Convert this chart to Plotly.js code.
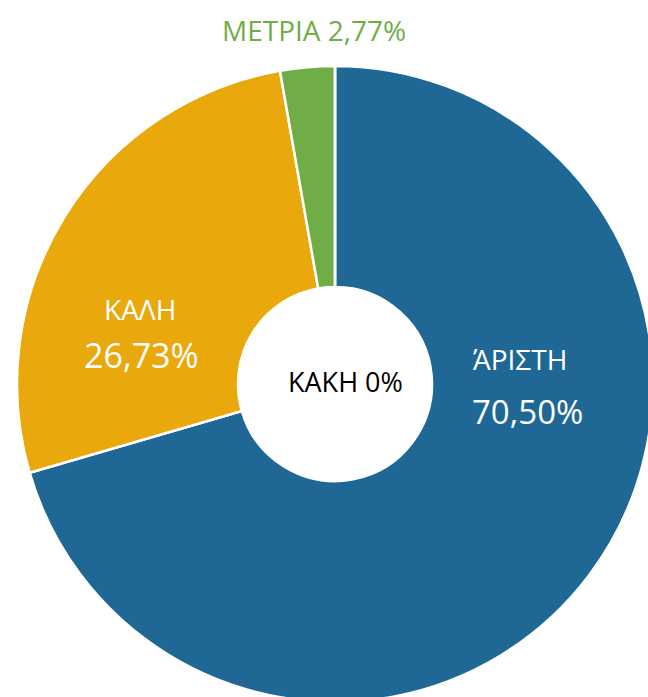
<!DOCTYPE html>
<html>
<head>
<meta charset="utf-8">
<script src="https://cdn.plot.ly/plotly-3.0.1.min.js"></script>
<style>html,body{margin:0;padding:0;background:#fff;overflow:hidden;width:648px;height:697px;}#chart{width:664px;height:712px;}</style>
</head>
<body>
<div id="chart"></div>
<script>
const labels = ["ΆΡΙΣΤΗ", "ΚΑΛΗ", "ΜΕΤΡΙΑ", "ΚΑΚΗ"];
const values = [70.50, 26.73, 2.77, 0];
const colors = ["#1f6896", "#e9a80c", "#71ad47", "#c00000"];

function pct(v) {
  if (v === 0) return "0%";
  return v.toFixed(2).replace(".", ",") + "%";
}
const W = 664, H = 712;
function px(x) { return x / W; }
function py(y) { return 1 - y / H; }
const font = "Open Sans, Noto Sans, sans-serif";

const trace = {
  type: "pie",
  labels: labels,
  values: values,
  hole: 0.305,
  sort: false,
  direction: "clockwise",
  rotation: 0,
  textinfo: "none",
  hoverinfo: "label+percent",
  marker: { colors: colors, line: { color: "#ffffff", width: 2.5 } },
  domain: { x: [17 / W, 653 / W], y: [1 - 702 / H, 1 - 66 / H] },
  showlegend: false
};

const annotations = [
  { x: px(314), y: py(30), text: labels[2] + " " + pct(values[2]), font: { size: 28, color: "#70ad47", family: font } },
  { x: px(140), y: py(309), text: labels[1], font: { size: 28, color: "#ffffff", family: font } },
  { x: px(141), y: py(355), text: pct(values[1]), font: { size: 34, color: "#ffffff", family: font } },
  { x: px(345), y: py(381), text: labels[3] + " " + pct(values[3]), font: { size: 27, color: "#000000", family: font } },
  { x: px(520), y: py(359), text: labels[0], font: { size: 28, color: "#ffffff", family: font } },
  { x: px(527), y: py(411), text: pct(values[0]), font: { size: 33, color: "#ffffff", family: font } }
].map(a => Object.assign({ xref: "paper", yref: "paper", showarrow: false, xanchor: "center", yanchor: "middle" }, a));

Plotly.newPlot("chart", [trace], {
  width: W, height: H,
  margin: { l: 0, r: 0, t: 0, b: 0 },
  paper_bgcolor: "#ffffff",
  annotations: annotations
}, { displayModeBar: false, staticPlot: true });
</script>
</body>
</html>
